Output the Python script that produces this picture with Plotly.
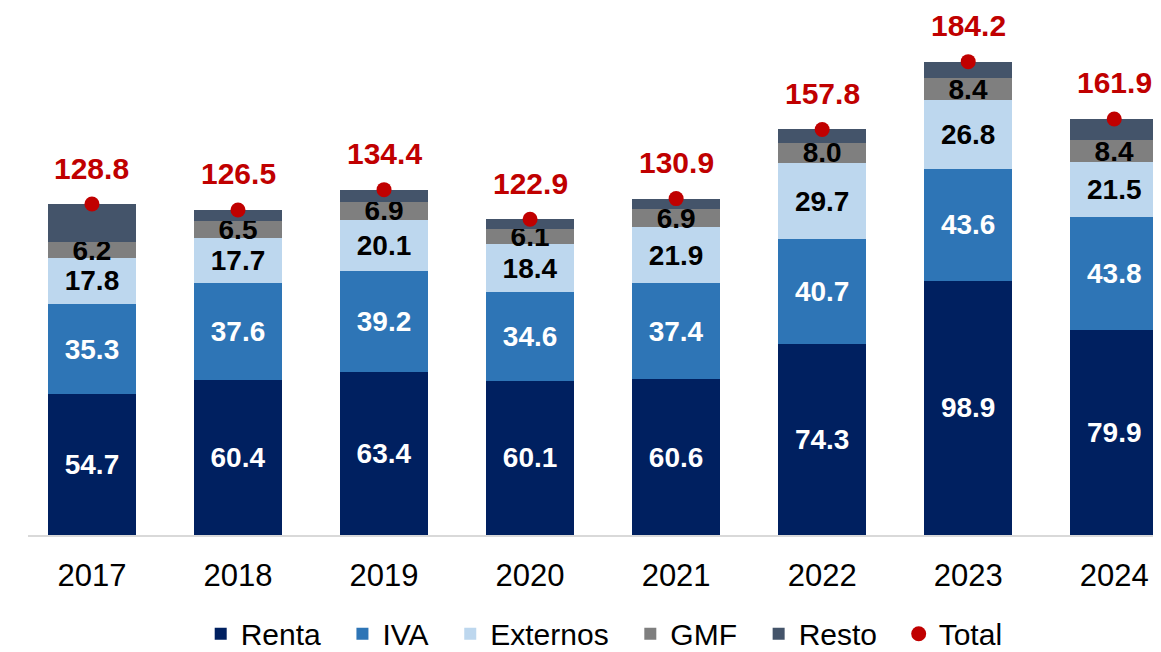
import plotly.graph_objects as go

years = ["2017", "2018", "2019", "2020", "2021", "2022", "2023", "2024"]
renta = [54.7, 60.4, 63.4, 60.1, 60.6, 74.3, 98.9, 79.9]
iva = [35.3, 37.6, 39.2, 34.6, 37.4, 40.7, 43.6, 43.8]
externos = [17.8, 17.7, 20.1, 18.4, 21.9, 29.7, 26.8, 21.5]
gmf = [6.2, 6.5, 6.9, 6.1, 6.9, 8.0, 8.4, 8.4]
resto = [14.8, 4.3, 4.8, 3.7, 4.1, 5.1, 6.5, 8.3]
total = [128.8, 126.5, 134.4, 122.9, 130.9, 157.8, 184.2, 161.9]

FONT = "Arial, Liberation Sans, sans-serif"
PAD = "\u00a0\u00a0"

fig = go.Figure()

def add_bar(name, vals, color, label_color=None):
    fig.add_trace(go.Bar(
        name=name + PAD, x=years, y=vals, marker=dict(color=color, line=dict(width=0)),
        text=[f"<b>{v:.1f}</b>" for v in vals] if label_color else None,
        textposition="inside" if label_color else "none",
        insidetextanchor="middle",
        constraintext="none",
        textangle=0,
        textfont=dict(family=FONT, size=28, color=label_color) if label_color else None,
        hoverinfo="skip",
    ))

add_bar("Renta", renta, "#002060", "white")
add_bar("IVA", iva, "#2E75B6", "white")
add_bar("Externos", externos, "#BDD7EE", "black")
add_bar("GMF", gmf, "#7F7F7F", "black")
add_bar("Resto", resto, "#44546A", None)

fig.add_trace(go.Scatter(
    name="Total", x=years, y=total, mode="markers",
    marker=dict(color="#C00000", size=15),
    hoverinfo="skip",
))

for i, t in enumerate(total):
    fig.add_annotation(
        x=i, y=t, xref="x", yref="y", text=f"<b>{t:.1f}</b>", showarrow=False,
        yanchor="middle", yshift=36, borderpad=0,
        font=dict(family=FONT, size=30, color="#C00000"),
    )

fig.update_layout(
    barmode="stack",
    bargap=0.4,
    width=1161, height=652,
    margin=dict(l=20, r=0, t=2, b=114),
    paper_bgcolor="white",
    plot_bgcolor="white",
    font=dict(family=FONT, size=30, color="black"),
    legend=dict(
        orientation="h", x=0.505, xanchor="center", y=-0.188, yanchor="middle",
        font=dict(family=FONT, size=30, color="black"),
        itemwidth=30, traceorder="normal", itemclick=False,
    ),
    showlegend=True,
)
fig.update_xaxes(
    type="category",
    range=[-0.438, 7.375], showline=True, linecolor="#D9D9D9", linewidth=2,
    ticks="", tickfont=dict(family=FONT, size=31, color="black"),
    ticklabelstandoff=12,
    showgrid=False, zeroline=False, fixedrange=True,
)
fig.update_yaxes(
    range=[0, 204.3], visible=False, showgrid=False, zeroline=False, fixedrange=True,
)

fig.write_html("out.html")
